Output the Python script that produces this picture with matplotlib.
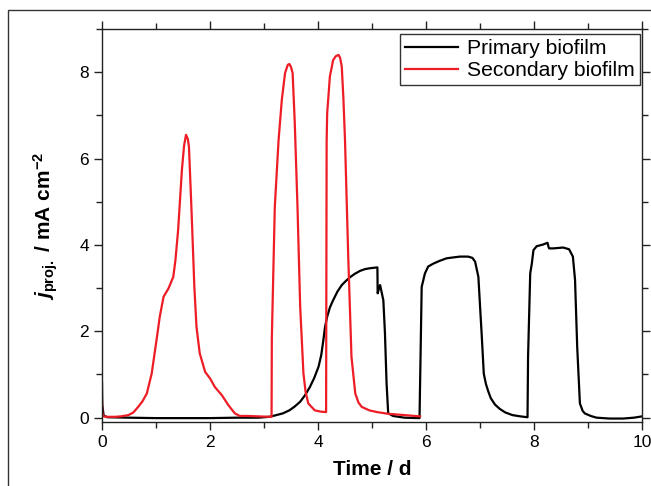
import matplotlib
matplotlib.use("Agg")
import matplotlib.pyplot as plt
from matplotlib.patches import Rectangle
from matplotlib.ticker import MultipleLocator

plt.rcParams['font.family'] = ['Liberation Sans', 'DejaVu Sans']
plt.rcParams['mathtext.fontset'] = 'custom'
plt.rcParams['mathtext.rm'] = 'Liberation Sans:bold'
plt.rcParams['mathtext.bf'] = 'Liberation Sans:bold'
plt.rcParams['mathtext.it'] = 'Liberation Sans:bold:italic'

# ---- data ----
t_primary = [0.0, 0.005, 0.03, 0.1, 0.5, 1.0, 1.5, 2.0, 2.5, 2.9, 3.1, 3.23, 3.35, 3.47,
             3.57, 3.67, 3.76, 3.85, 3.93, 4.01, 4.06, 4.10, 4.13, 4.17, 4.22, 4.28, 4.36,
             4.44, 4.52, 4.59, 4.68, 4.78, 4.87, 4.96, 5.10, 5.105, 5.12, 5.15, 5.21, 5.24,
             5.27, 5.30, 5.39, 5.6, 5.88, 5.90, 5.92, 5.94, 5.98, 6.04, 6.14, 6.25, 6.38,
             6.5, 6.63, 6.78, 6.86, 6.91, 6.97, 7.0, 7.03, 7.07, 7.11, 7.15, 7.2, 7.28,
             7.37, 7.47, 7.6, 7.75, 7.88, 7.89, 7.93, 7.96, 7.99, 8.05, 8.17, 8.25, 8.27,
             8.28, 8.36, 8.54, 8.65, 8.72, 8.76, 8.80, 8.85, 8.90, 8.94, 9.05, 9.16, 9.4,
             9.65, 9.85, 10.0]
j_primary = [0.8, 0.3, 0.05, 0.01, 0.0, -0.01, -0.01, -0.01, 0.0, 0.0, 0.02, 0.06, 0.1, 0.17,
             0.26, 0.37, 0.52, 0.71, 0.92, 1.18, 1.45, 1.80, 2.1, 2.34, 2.55, 2.72, 2.92,
             3.07, 3.17, 3.25, 3.33, 3.40, 3.44, 3.46, 3.48, 2.88, 2.95, 3.07, 2.72, 1.95,
             0.79, 0.10, 0.04, 0.0, -0.01, 1.5, 3.03, 3.13, 3.34, 3.50, 3.57, 3.63, 3.69,
             3.71, 3.73, 3.73, 3.70, 3.61, 3.26, 2.6, 1.95, 1.02, 0.78, 0.62, 0.45, 0.30,
             0.20, 0.12, 0.06, 0.03, 0.01, 1.41, 3.34, 3.57, 3.88, 3.97, 4.01, 4.05, 3.95,
             3.92, 3.92, 3.94, 3.90, 3.73, 3.19, 1.64, 0.33, 0.16, 0.10, 0.04, 0.0, -0.02,
             -0.02, 0.0, 0.03]

t_secondary = [0.0, 0.005, 0.03, 0.1, 0.24, 0.35, 0.49, 0.58, 0.67, 0.75, 0.83, 0.92, 1.01,
               1.07, 1.14, 1.23, 1.32, 1.36, 1.41, 1.48, 1.52, 1.556, 1.59, 1.61, 1.66, 1.71,
               1.75, 1.81, 1.91, 2.0, 2.09, 2.22, 2.34, 2.46, 2.55, 2.7, 2.9, 3.13, 3.14,
               3.145, 3.20, 3.27, 3.33, 3.39, 3.44, 3.47, 3.50, 3.53, 3.57, 3.62, 3.67, 3.73,
               3.77, 3.82, 3.94, 4.05, 4.14, 4.15, 4.16, 4.17, 4.22, 4.28, 4.33, 4.38, 4.41,
               4.44, 4.47, 4.50, 4.56, 4.62, 4.69, 4.75, 4.81, 4.95, 5.09, 5.3, 5.6, 5.89]
j_secondary = [0.4, 0.1, 0.03, 0.02, 0.02, 0.03, 0.06, 0.12, 0.25, 0.38, 0.56, 1.02, 1.80,
               2.34, 2.80, 2.99, 3.26, 3.65, 4.35, 5.74, 6.3, 6.55, 6.45, 6.28, 4.73, 3.03,
               2.10, 1.49, 1.06, 0.91, 0.71, 0.52, 0.29, 0.10, 0.04, 0.04, 0.03, 0.02, 0.02,
               1.84, 4.88, 6.43, 7.36, 7.98, 8.17, 8.19, 8.12, 7.98, 6.82, 4.89, 2.57, 1.03,
               0.6, 0.33, 0.17, 0.14, 0.13, 0.13, 6.4, 7.05, 7.90, 8.28, 8.37, 8.40, 8.33,
               8.13, 7.4, 6.43, 3.73, 1.41, 0.56, 0.35, 0.25, 0.17, 0.13, 0.09, 0.06, 0.03]

series_labels = ['Primary biofilm', 'Secondary biofilm']
x_ticks = [0, 2, 4, 6, 8, 10]
y_ticks = [0, 2, 4, 6, 8]

# ---- figure ----
fig = plt.figure(figsize=(6.51, 4.86), dpi=100)
ax = fig.add_axes([102/651, 1-422/486, 540/651, (422-29)/486])

ax.plot(t_primary, j_primary, color='black', lw=1.6, label=series_labels[0])
ax.plot(t_secondary, j_secondary, color='#ee1c25', lw=1.6, label=series_labels[1])

ax.set_xlim(0, 10)
ax.set_ylim(-0.1, 9.0)
ax.set_xticks(x_ticks)
ax.set_yticks(y_ticks)
ax.xaxis.set_minor_locator(MultipleLocator(1))
ax.yaxis.set_minor_locator(MultipleLocator(1))
ax.tick_params(which='both', direction='out', top=True, right=True,
               labeltop=False, labelright=False, width=1.0, color='#222222')
ax.tick_params(which='major', length=6, labelsize=12.5)
ax.tick_params(which='minor', length=4)
for s in ax.spines.values():
    s.set_linewidth(1.0)
    s.set_color('#222222')

ax.set_xlabel('Time / d', fontsize=15, fontweight='bold', labelpad=7)
ax.set_ylabel(r'$j_{\mathrm{proj.}}$ / mA cm$^{\mathrm{-2}}$', fontsize=15,
              fontweight='bold', labelpad=14)

leg = ax.legend(loc='upper right', bbox_to_anchor=(0.997, 0.987), fontsize=15.2,
                frameon=True, fancybox=False, edgecolor='black', borderpad=0.25,
                handlelength=2.5, handletextpad=0.45, labelspacing=0.12,
                borderaxespad=0.0)
leg.get_frame().set_linewidth(1.0)

# outer frame of the figure (partly cropped)
fig.patches.append(Rectangle((8/651, -0.2), 1.2, 1 - 10/486 + 0.2,
                             transform=fig.transFigure, fill=False,
                             edgecolor='#333333', lw=1.0))

fig.savefig('out.png', dpi=100)
